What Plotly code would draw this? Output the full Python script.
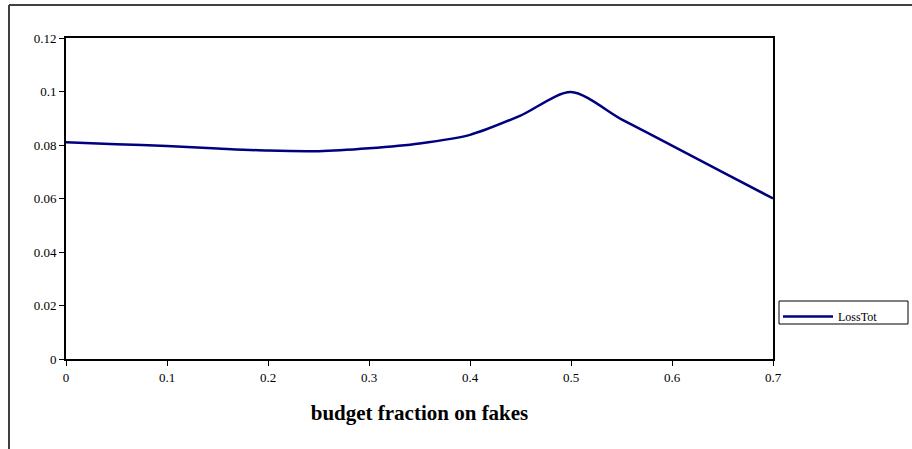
import plotly.graph_objects as go

budget_fraction = [0.0, 0.05, 0.1, 0.15, 0.2, 0.25, 0.3, 0.35, 0.4, 0.45, 0.5, 0.55, 0.6, 0.65, 0.7]
loss_tot = [0.0810, 0.0803, 0.0796, 0.0787, 0.0779, 0.0777, 0.0788, 0.0806, 0.0838, 0.0910, 0.0998, 0.0896, 0.0798, 0.0699, 0.0600]
x_ticks = [0, 0.1, 0.2, 0.3, 0.4, 0.5, 0.6, 0.7]
y_ticks = [0, 0.02, 0.04, 0.06, 0.08, 0.1, 0.12]

W, H = 912, 449
L, R, T, B = 66, 773, 38, 359

def px(xp):
    return (xp - L) / (R - L)

def py(yp):
    return (B - yp) / (B - T)

fig = go.Figure()
fig.add_trace(go.Scatter(
    x=budget_fraction, y=loss_tot, mode="lines", name="LossTot",
    line=dict(color="#000080", width=2.5, shape="spline", smoothing=0.8),
))

font_family = "Liberation Serif, Times New Roman, serif"
fig.update_layout(
    width=W, height=H,
    margin=dict(l=L, r=W - R, t=T, b=H - B, pad=0),
    paper_bgcolor="white", plot_bgcolor="white",
    font=dict(family=font_family, size=13, color="black"),
    showlegend=True,
    legend=dict(
        x=px(778), y=py(302), xanchor="left", yanchor="top",
        borderwidth=0, bgcolor="rgba(0,0,0,0)",
        font=dict(family=font_family, size=12, color="black"),
        itemwidth=50,
        tracegroupgap=0,
    ),
    xaxis=dict(
        range=[0, 0.7], tickvals=x_ticks, ticktext=[f"{v:g}" for v in x_ticks],
        showgrid=False, zeroline=False,
        showline=True, linecolor="black", linewidth=2, mirror=True,
        ticks="outside", ticklen=5, tickcolor="black", tickwidth=1,
        tickfont=dict(color="black"),
        title=dict(text="<b>budget fraction on fakes</b>",
                   font=dict(family=font_family, size=21, color="black"), standoff=22),
    ),
    yaxis=dict(
        range=[0, 0.12], tickvals=y_ticks, ticktext=[f"{v:g}" for v in y_ticks],
        showgrid=False, zeroline=False,
        showline=True, linecolor="black", linewidth=2, mirror=True,
        ticks="outside", ticklen=5, tickcolor="black", tickwidth=1,
        tickfont=dict(color="black"),
    ),
    shapes=[
        dict(type="line", xref="paper", yref="paper",
             x0=px(9), x1=px(9), y0=py(5), y1=py(449),
             line=dict(color="#404040", width=2)),
        dict(type="line", xref="paper", yref="paper",
             x0=px(9), x1=px(912), y0=py(5), y1=py(5),
             line=dict(color="#404040", width=2)),
        dict(type="rect", xref="paper", yref="paper",
             x0=px(779), x1=px(908), y0=py(301), y1=py(324),
             line=dict(color="black", width=1), fillcolor="rgba(0,0,0,0)"),
    ],
)

fig.write_html("out.html", config={"displayModeBar": False},
               post_script="document.body.style.margin='0';document.body.style.overflow='hidden';")
